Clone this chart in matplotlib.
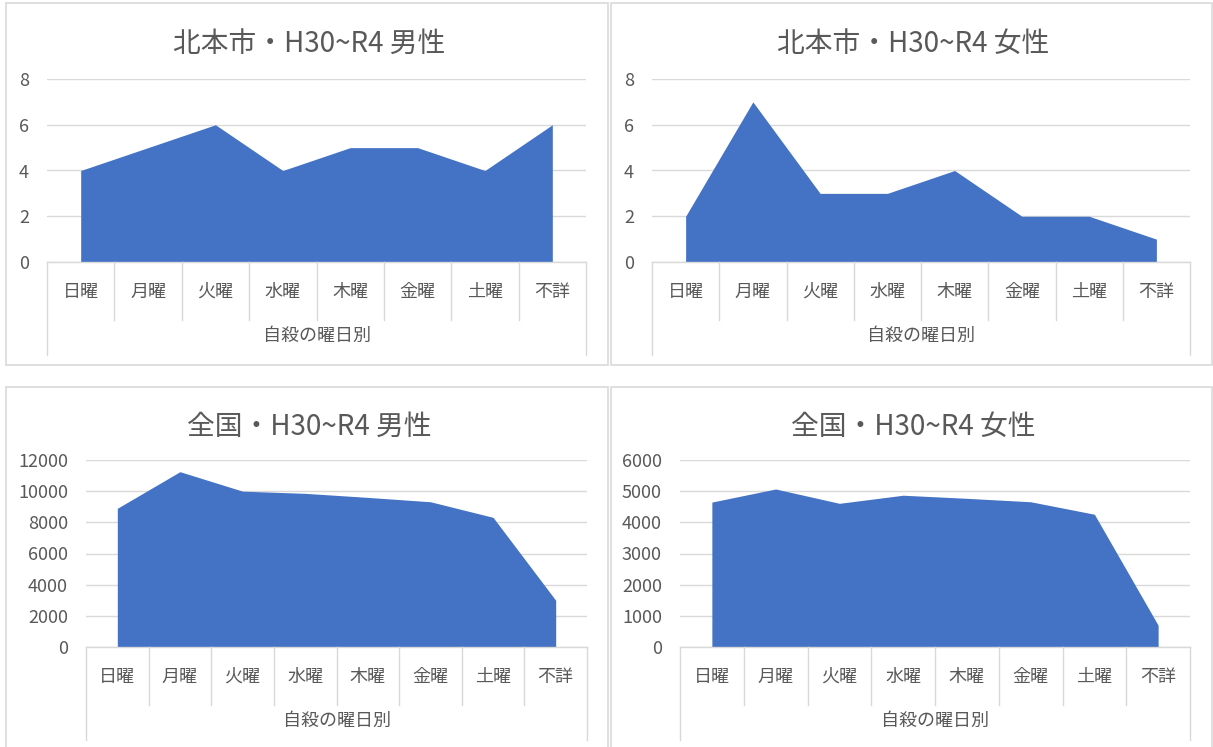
import numpy as np
import matplotlib
matplotlib.use("Agg")
import matplotlib.pyplot as plt
from matplotlib.patches import Rectangle
from matplotlib.lines import Line2D

plt.rcParams['font.family'] = ['Noto Sans CJK JP', 'DejaVu Sans']

# 曜日別の自殺者数 (H30~R4 合計)
days = ["日曜", "月曜", "火曜", "水曜", "木曜", "金曜", "土曜", "不詳"]
kitamoto_male = [4, 5, 6, 4, 5, 5, 4, 6]
kitamoto_female = [2, 7, 3, 3, 4, 2, 2, 1]
zenkoku_male = [8900, 11250, 10000, 9860, 9600, 9320, 8320, 3000]
zenkoku_female = [4650, 5070, 4610, 4870, 4770, 4660, 4260, 700]

titles = ["北本市・H30~R4 男性", "北本市・H30~R4 女性",
          "全国・H30~R4 男性", "全国・H30~R4 女性"]
series = [kitamoto_male, kitamoto_female, zenkoku_male, zenkoku_female]
yticks = [np.arange(0, 9, 2), np.arange(0, 9, 2),
          np.arange(0, 12001, 2000), np.arange(0, 6001, 1000)]
axis_title = "自殺の曜日別"

W, H = 1213, 747
fig = plt.figure(figsize=(W / 100, H / 100), dpi=100)

BLUE = "#4472C4"
GRID = "#d9d9d9"
TEXT = "#595959"


def fx(x):
    return x / W


def fy(y):
    return 1 - y / H


def line(x0, y0, x1, y1, color=GRID, lw=1.0):
    fig.add_artist(Line2D([fx(x0), fx(x1)], [fy(y0), fy(y1)],
                          transform=fig.transFigure, color=color, lw=lw))


# chart frames (left, top, right, bottom) in pixels
frames = [(6, 3, 608, 365), (611, 3, 1212, 365),
          (6, 387, 608, 749), (611, 387, 1212, 749)]
# plot areas (left, top, right, bottom)
plots = [(47, 79, 586, 262), (652, 79, 1190, 262),
         (86, 460, 587, 647), (680, 460, 1190, 647)]
title_y = [44, 44, 427, 427]
label_row = 58   # height of the day label row
outer_row = 93   # outer divider length

for k in range(4):
    l, t, r, b = frames[k]
    fig.add_artist(Rectangle((fx(l), fy(b)), fx(r - l), (b - t) / H,
                             transform=fig.transFigure, fill=False,
                             edgecolor=GRID, lw=1.2))

    pl, pt, pr, pb = plots[k]
    ax = fig.add_axes([fx(pl), fy(pb), fx(pr - pl), (pb - pt) / H])
    vals = series[k]
    x = np.arange(len(days))
    ax.fill_between(x, 0, vals, color=BLUE, lw=0, zorder=3)
    ax.set_xlim(-0.5, len(days) - 0.5)
    ax.set_ylim(yticks[k][0], yticks[k][-1])
    ax.set_yticks(yticks[k])
    ax.set_yticklabels([str(v) for v in yticks[k]])
    ax.set_xticks([])
    ax.grid(axis="y", color=GRID, lw=1.0, zorder=0)
    for s in ax.spines.values():
        s.set_visible(False)
    ax.tick_params(axis="y", length=0, pad=13, labelsize=13, labelcolor=TEXT)
    ax.patch.set_alpha(0)

    # multi-level category axis
    line(pl, pb, pr, pb)
    n = len(days)
    step = (pr - pl) / n
    for i in range(n + 1):
        xp = pl + i * step
        ln = outer_row if i in (0, n) else label_row
        line(xp, pb, xp, pb + ln)
    for i, d in enumerate(days):
        fig.text(fx(pl + (i + 0.5) * step), fy(pb + 30), d,
                 ha="center", va="center", fontsize=13, color=TEXT)
    fig.text(fx((pl + pr) / 2), fy(pb + 74), axis_title,
             ha="center", va="center", fontsize=13, color=TEXT)

    fig.text(fx((l + r) / 2 + 2), fy(title_y[k]), titles[k],
             ha="center", va="center", fontsize=20, color=TEXT)

fig.savefig("out.png", dpi=100, facecolor="white")
